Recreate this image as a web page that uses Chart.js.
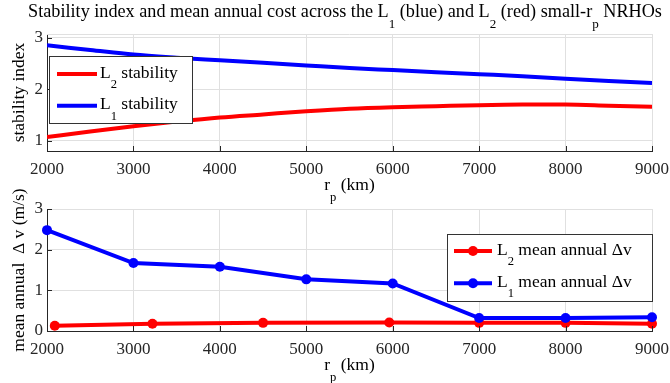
<!DOCTYPE html>
<html>
<head>
<meta charset="utf-8">
<title>Stability index and mean annual cost</title>
<script src="https://cdn.jsdelivr.net/npm/chart.js@4/dist/chart.umd.min.js"></script>
<style>
html, body { margin: 0; padding: 0; background: #fff; }
#wrap { position: relative; width: 670px; height: 383px; overflow: hidden; }
#cTop { position: absolute; left: 0; top: 0; }
#cBot { position: absolute; left: 0; top: 175px; }
</style>
</head>
<body>
<div id="wrap">
  <canvas id="cTop" width="670" height="210"></canvas>
  <canvas id="cBot" width="670" height="208"></canvas>
</div>
<script>
// ── data ──────────────────────────────────────────────────────────────
var rpTicks = [2000, 3000, 4000, 5000, 6000, 7000, 8000, 9000];

// stability index (top panel)
var stabRp = [2000, 2500, 3000, 3500, 4000, 4500, 5000, 5500, 6000, 6500, 7000, 7500, 8000, 8500, 9000];
var stabL1 = [2.85, 2.76, 2.67, 2.61, 2.56, 2.51, 2.46, 2.41, 2.37, 2.33, 2.29, 2.25, 2.20, 2.16, 2.12];
var stabL2 = [1.07, 1.18, 1.28, 1.37, 1.45, 1.51, 1.57, 1.62, 1.65, 1.67, 1.69, 1.70, 1.70, 1.68, 1.66];
var stabTicks = [1, 2, 3];

// mean annual delta-v (bottom panel)
var dvRpL1 = [2000, 3000, 4000, 5000, 6000, 7000, 8000, 9000];
var dvL1   = [2.48, 1.67, 1.58, 1.27, 1.17, 0.32, 0.32, 0.34];
var dvRpL2 = [2090, 3220, 4500, 5960, 7000, 8000, 9000];
var dvL2   = [0.13, 0.18, 0.20, 0.21, 0.20, 0.20, 0.18];
var dvTicks = [0, 1, 2, 3];

var RED = '#ff0000', BLUE = '#0000ff';
var FONT = '"Liberation Serif", "Times New Roman", serif';
var INK = '#262626';

Chart.defaults.font.family = FONT;
Chart.defaults.font.size = 17;
Chart.defaults.color = INK;

function pts(xs, ys) {
    return xs.map(function(x, i) { return { x: x, y: ys[i] }; });
}

// ── text with TeX-like subscripts: "L_{2} stability" ──────────────────
function parseRich(str) {
    var out = [], re = /_\{([^}]*)\}/g, last = 0, m;
    while ((m = re.exec(str))) {
        if (m.index > last) out.push({ t: str.slice(last, m.index), sub: false });
        out.push({ t: m[1], sub: true });
        last = re.lastIndex;
    }
    if (last < str.length) out.push({ t: str.slice(last), sub: false });
    return out;
}

function drawRich(ctx, str, x, y, size, align) {
    var parts = parseRich(str), w = 0;
    parts.forEach(function(p) {
        ctx.font = (p.sub ? size * 0.72 : size) + 'px ' + FONT;
        p.w = ctx.measureText(p.t).width;
        w += p.w;
    });
    var cx = align === 'center' ? x - w / 2 : x;
    ctx.textAlign = 'left';
    ctx.textBaseline = 'alphabetic';
    parts.forEach(function(p) {
        ctx.font = (p.sub ? size * 0.72 : size) + 'px ' + FONT;
        ctx.fillText(p.t, cx, p.sub ? y + size * 0.6 : y);
        cx += p.w;
    });
}

// ── titles, inward ticks, legend box ─────────────────────────────────
var decoPlugin = {
    id: 'deco',
    afterDraw: function(chart, args, o) {
        var ctx = chart.ctx, a = chart.chartArea;
        var xs = chart.scales.x, ys = chart.scales.y;
        ctx.save();

        // light top edge of the axes box
        ctx.strokeStyle = '#e0e0e0';
        ctx.lineWidth = 1;
        ctx.beginPath();
        ctx.moveTo(a.left, a.top + 0.5);
        ctx.lineTo(a.right, a.top + 0.5);
        ctx.stroke();

        // inward tick marks (matlab style)
        ctx.strokeStyle = INK;
        ctx.beginPath();
        xs.ticks.forEach(function(t) {
            var px = Math.round(xs.getPixelForValue(t.value)) + 0.5;
            ctx.moveTo(px, a.bottom);
            ctx.lineTo(px, a.bottom - 5);
        });
        ys.ticks.forEach(function(t) {
            var py = Math.round(ys.getPixelForValue(t.value)) + 0.5;
            ctx.moveTo(a.left, py);
            ctx.lineTo(a.left + 5, py);
        });
        ctx.stroke();

        ctx.fillStyle = '#000';
        if (o.title) drawRich(ctx, o.title, 345, 16.7, 18.2, 'center');
        var mid = (a.left + a.right) / 2;
        drawRich(ctx, o.xTitle, mid, a.bottom + 39, 17.5, 'center');

        ctx.save();
        ctx.translate(24, (a.top + a.bottom) / 2);
        ctx.rotate(-Math.PI / 2);
        drawRich(ctx, o.yTitle, 0, 0, 17.5, 'center');
        ctx.restore();

        // legend
        var L = o.legend;
        var b = L.box;
        ctx.fillStyle = '#fff';
        ctx.fillRect(b[0], b[1], b[2] - b[0], b[3] - b[1]);
        ctx.strokeStyle = '#333';
        ctx.lineWidth = 1;
        ctx.strokeRect(b[0] + 0.5, b[1] + 0.5, b[2] - b[0], b[3] - b[1]);
        L.items.forEach(function(it) {
            ctx.strokeStyle = it.color;
            ctx.lineWidth = 4;
            ctx.beginPath();
            ctx.moveTo(L.x0, it.y);
            ctx.lineTo(L.x1, it.y);
            ctx.stroke();
            if (L.marker) {
                ctx.fillStyle = it.color;
                ctx.beginPath();
                ctx.arc((L.x0 + L.x1) / 2, it.y, 5, 0, Math.PI * 2);
                ctx.fill();
            }
            ctx.fillStyle = '#000';
            drawRich(ctx, it.label, L.tx, it.y + 3.5, 17.5, 'left');
        });
        ctx.restore();
    }
};

function axes(ymin, ymax, yTicks, xHeight) {
    var grid = { color: '#e0e0e0', lineWidth: 1, drawTicks: false };
    var border = { color: INK, width: 1 };
    var tickFont = { family: FONT, size: 17 };
    return {
        x: {
            type: 'linear', min: 2000, max: 9000,
            afterBuildTicks: function(s) { s.ticks = rpTicks.map(function(v) { return { value: v }; }); },
            afterFit: function(s) { s.height = xHeight; s.paddingLeft = 0; s.paddingRight = 0; },
            ticks: { padding: 8, maxRotation: 0, autoSkip: false, color: INK, font: tickFont,
                     callback: function(v) { return String(v); } },
            grid: grid, border: border
        },
        y: {
            min: ymin, max: ymax,
            afterBuildTicks: function(s) { s.ticks = yTicks.map(function(v) { return { value: v }; }); },
            afterFit: function(s) { s.width = 47; s.paddingTop = 0; s.paddingBottom = 0; },
            ticks: { padding: 4, color: INK, font: tickFont,
                     callback: function(v) { return String(v); } },
            grid: grid, border: border
        }
    };
}

// ── top: stability index ─────────────────────────────────────────────
new Chart(document.getElementById('cTop'), {
    type: 'line',
    data: {
        datasets: [
            { label: 'L2 stability', data: pts(stabRp, stabL2), borderColor: RED, borderWidth: 4,
              pointRadius: 0, cubicInterpolationMode: 'monotone', order: 1 },
            { label: 'L1 stability', data: pts(stabRp, stabL1), borderColor: BLUE, borderWidth: 4,
              pointRadius: 0, cubicInterpolationMode: 'monotone', order: 0 }
        ]
    },
    options: {
        responsive: false,
        animation: false,
        layout: { padding: { top: 34, right: 18, left: 0, bottom: 0 } },
        scales: axes(0.8, 3.07, stabTicks, 59),
        plugins: {
            legend: { display: false },
            tooltip: { enabled: false },
            deco: {
                title: 'Stability index and mean annual cost across the L_{1} (blue) and L_{2} (red) small-r_{p} NRHOs',
                xTitle: 'r_{p} (km)',
                yTitle: 'stability index',
                legend: {
                    box: [49, 56, 192, 123], x0: 57, x1: 97, tx: 100, marker: false,
                    items: [
                        { label: 'L_{2} stability', color: RED, y: 74 },
                        { label: 'L_{1} stability', color: BLUE, y: 105.7 }
                    ]
                }
            }
        }
    },
    plugins: [decoPlugin]
});

// ── bottom: mean annual delta-v ──────────────────────────────────────
new Chart(document.getElementById('cBot'), {
    type: 'line',
    data: {
        datasets: [
            { label: 'L2 mean annual dv', data: pts(dvRpL2, dvL2), borderColor: RED, backgroundColor: RED,
              borderWidth: 4, pointRadius: 5, pointBorderWidth: 0, clip: false, order: 1 },
            { label: 'L1 mean annual dv', data: pts(dvRpL1, dvL1), borderColor: BLUE, backgroundColor: BLUE,
              borderWidth: 4, pointRadius: 5, pointBorderWidth: 0, clip: false, order: 0 }
        ]
    },
    options: {
        responsive: false,
        animation: false,
        layout: { padding: { top: 34, right: 18, left: 0, bottom: 0 } },
        scales: axes(0, 3, dvTicks, 52),
        plugins: {
            legend: { display: false },
            tooltip: { enabled: false },
            deco: {
                xTitle: 'r_{p} (km)',
                yTitle: 'mean annual  \u0394 v (m/s)',
                legend: {
                    box: [447, 59, 652, 126], x0: 454, x1: 492, tx: 497, marker: true,
                    items: [
                        { label: 'L_{2} mean annual \u0394v', color: RED, y: 76 },
                        { label: 'L_{1} mean annual \u0394v', color: BLUE, y: 108.3 }
                    ]
                }
            }
        }
    },
    plugins: [decoPlugin]
});
</script>
</body>
</html>
